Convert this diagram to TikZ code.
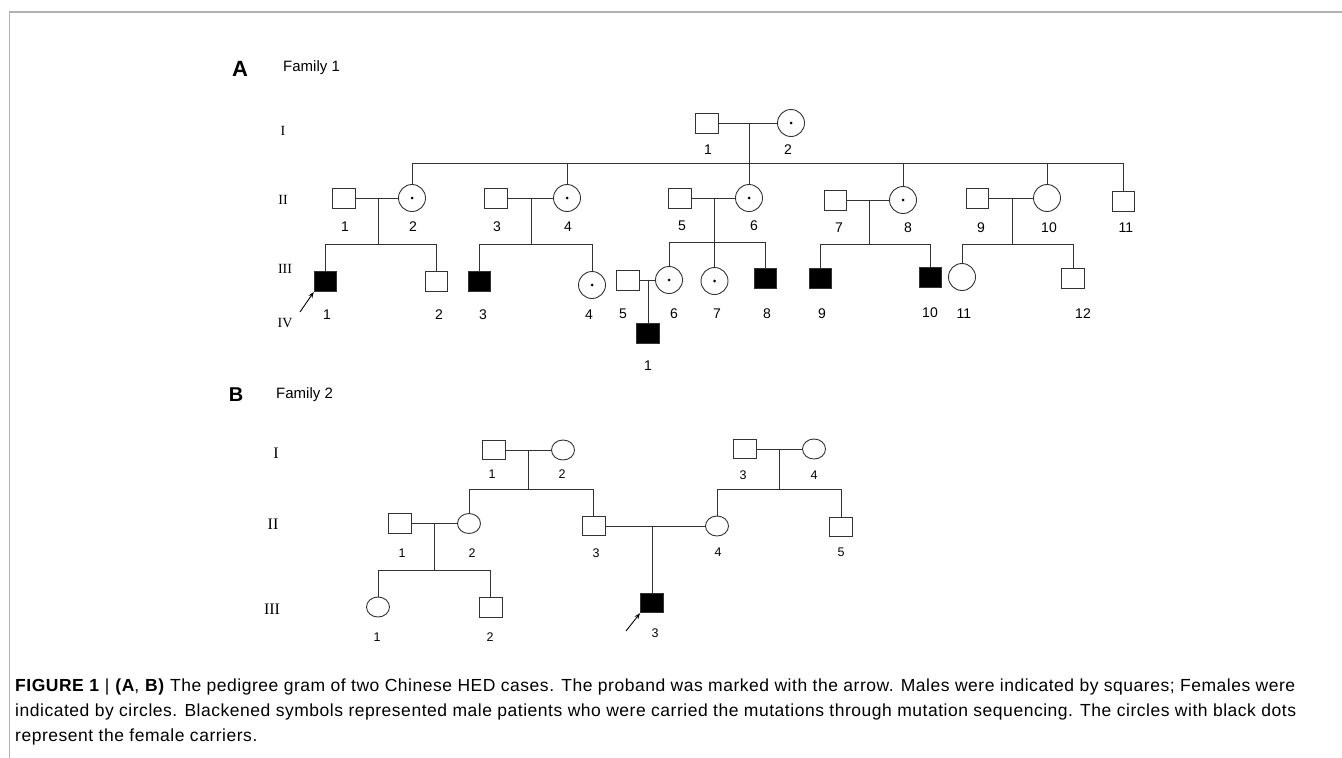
\documentclass[tikz,border=0pt]{standalone}
\usepackage{fontspec}
\setmainfont{Liberation Sans}
\newfontfamily\romf{Liberation Serif}
\newfontfamily\capf[LetterSpace=3]{Liberation Sans}
\usetikzlibrary{shapes.geometric,calc,arrows.meta}
\begin{document}
\begin{tikzpicture}[x=1pt,y=-1pt,
  ln/.style={line width=0.9pt, draw=black!80},
  sq/.style={draw=black!80, line width=0.9pt, rectangle, minimum width=22.5pt, minimum height=20pt, inner sep=0pt},
  fsq/.style={sq, fill=black},
  cf/.style={draw=black!80, line width=0.9pt, circle, minimum size=27pt, inner sep=0pt},
  car/.style={cf, path picture={\fill[black] (path picture bounding box.center) circle (1.5pt);}},
  el/.style={draw=black!80, line width=0.9pt, ellipse, minimum width=23pt, minimum height=20pt, inner sep=0pt},
  sqb/.style={sq, minimum height=19.5pt, minimum width=23pt},
  fsqb/.style={sqb, fill=black},
  lA/.style={font=\fontsize{14}{14}\selectfont, inner sep=0pt},
  lB/.style={font=\fontsize{12.5}{12.5}\selectfont, inner sep=0pt},
  rA/.style={font=\romf\fontsize{14}{14}\selectfont, inner sep=0pt},
  rB/.style={font=\romf\fontsize{16}{16}\selectfont, inner sep=0pt},
  arr/.style={line width=0.9pt, draw=black, -{Stealth[length=6pt,width=4.5pt]}},
  capline/.style={anchor=base west, font=\capf\fontsize{17.5}{17.5}\selectfont, inner sep=0pt},
]
\useasboundingbox (0,0) rectangle (1342,758);
% frame
\coordinate (fr1) at (1342,12);
\coordinate (fr2) at (9.5,12);
\coordinate (fr3) at (9.5,758);
\draw[gray!60, line width=1.3pt] (fr1) -- (fr2) -- (fr3);

% ================= Family 1 =================
\node[font=\bfseries\fontsize{22}{22}\selectfont, inner sep=0pt] (A) at (240,69) {A};
\node[font=\fontsize{15}{15}\selectfont, anchor=west, inner sep=0pt] (F1) at (283,68) {Family 1};
\node[rA] (rI) at (283,131) {I};
\node[rA] (rII) at (283,200) {II};
\node[rA] (rIII) at (285,269) {III};
\node[rA] (rIV) at (285,323) {IV};

% generation I
\node[sq] (I1) at (707,123) {};
\node[car] (I2) at (791,123) {};
\node[lA] (lI1) at (708,150) {1};
\node[lA] (lI2) at (788,150) {2};

% generation II
\node[sq] (II1) at (344,198) {};
\node[car] (II2) at (412,198) {};
\node[sq] (II3) at (496,198) {};
\node[car] (II4) at (567,198) {};
\node[sq] (II5) at (680,198) {};
\node[car] (II6) at (749,198) {};
\node[sq] (II7) at (835.5,200) {};
\node[car] (II8) at (903,200) {};
\node[sq] (II9) at (977.5,198) {};
\node[cf] (II10) at (1047,198) {};
\node[sq] (II11) at (1123.5,201) {};
\node[lA] (lII1) at (345,227) {1};
\node[lA] (lII2) at (413,227) {2};
\node[lA] (lII3) at (497,227) {3};
\node[lA] (lII4) at (568,227) {4};
\node[lA] (lII5) at (682,226) {5};
\node[lA] (lII6) at (754,226) {6};
\node[lA] (lII7) at (839,228) {7};
\node[lA] (lII8) at (908,228) {8};
\node[lA] (lII9) at (981,228) {9};
\node[lA] (lII10) at (1049,228) {10};
\node[lA] (lII11) at (1126,228) {11};

% generation III
\node[fsq] (III1) at (325.5,281.5) {};
\node[sq] (III2) at (436.5,281.5) {};
\node[fsq] (III3) at (479.5,281.5) {};
\node[car] (III4) at (592,285) {};
\node[sq] (III5) at (628,280) {};
\node[car] (III6) at (669,280) {};
\node[car] (III7) at (714.5,281) {};
\node[fsq] (III8) at (765.5,278) {};
\node[fsq] (III9) at (820.5,278) {};
\node[fsq] (III10) at (930.5,277) {};
\node[cf] (III11) at (962,277) {};
\node[sq] (III12) at (1073,278) {};
\node[lA] (lIII1) at (327,315) {1};
\node[lA] (lIII2) at (439,315) {2};
\node[lA] (lIII3) at (483,315) {3};
\node[lA] (lIII4) at (589,315) {4};
\node[lA] (lIII5) at (623,314) {5};
\node[lA] (lIII6) at (674,314) {6};
\node[lA] (lIII7) at (717,314) {7};
\node[lA] (lIII8) at (767,314) {8};
\node[lA] (lIII9) at (822,314) {9};
\node[lA] (lIII10) at (930,313) {10};
\node[lA] (lIII11) at (964,314) {11};
\node[lA] (lIII12) at (1083,314) {12};

% generation IV
\node[fsq] (IV1) at (648,333) {};
\node[lA] (lIV1) at (648,366) {1};

% marriages
\draw[ln] (I1) -- (I2);
\draw[ln] (II1) -- (II2);
\draw[ln] (II3) -- (II4);
\draw[ln] (II5) -- (II6);
\draw[ln] (II7) -- (II8);
\draw[ln] (II9) -- (II10);
\draw[ln] (III5) -- (III6);
\coordinate (mI) at ($(I1)!0.5!(I2)$);
\coordinate (m1) at ($(II1)!0.5!(II2)$);
\coordinate (m3) at ($(II3)!0.5!(II4)$);
\coordinate (m5) at ($(II5)!0.5!(II6)$);
\coordinate (m7) at ($(II7)!0.5!(II8)$);
\coordinate (m9) at ($(II9)!0.5!(II10)$);
\coordinate (m35) at ($(III5)!0.5!(III6)$);
% sibship lines
\coordinate (sI) at (0,163);
\coordinate (s1) at (0,244);
\coordinate (s5) at (0,242);
\draw[ln] (II2.north |- sI) -- (II11.north |- sI);
\draw[ln] (mI) -- (mI |- sI);
\foreach \n in {II2,II4,II6,II8,II10,II11} \draw[ln] (\n.north |- sI) -- (\n.north);
\draw[ln] (III1.north |- s1) -- (III2.north |- s1);
\draw[ln] (m1) -- (m1 |- s1);
\foreach \n in {III1,III2} \draw[ln] (\n.north |- s1) -- (\n.north);
\draw[ln] (III3.north |- s1) -- (III4.north |- s1);
\draw[ln] (m3) -- (m3 |- s1);
\foreach \n in {III3,III4} \draw[ln] (\n.north |- s1) -- (\n.north);
\draw[ln] (III6.north |- s5) -- (III8.north |- s5);
\draw[ln] (m5) -- (III7.north);
\foreach \n in {III6,III8} \draw[ln] (\n.north |- s5) -- (\n.north);
\draw[ln] (III9.north |- s1) -- (III10.north |- s1);
\draw[ln] (m7) -- (m7 |- s1);
\foreach \n in {III9,III10} \draw[ln] (\n.north |- s1) -- (\n.north);
\draw[ln] (III11.north |- s1) -- (III12.north |- s1);
\draw[ln] (m9) -- (m9 |- s1);
\foreach \n in {III11,III12} \draw[ln] (\n.north |- s1) -- (\n.north);
\draw[ln] (m35) -- (m35 |- IV1.north);
% proband arrow
\coordinate (pa1) at (300,312);
\draw[arr] (pa1) -- (III1.south west);

% ================= Family 2 =================
\node[font=\bfseries\fontsize{20}{20}\selectfont, inner sep=0pt] (B) at (236,395) {B};
\node[font=\fontsize{15}{15}\selectfont, anchor=west, inner sep=0pt] (F2) at (276,395) {Family 2};
\node[rB] (brI) at (276,453) {I};
\node[rB] (brII) at (273,524) {II};
\node[rB] (brIII) at (272,609) {III};

\node[sqb] (bI1) at (493.5,450) {};
\node[el] (bI2) at (563,450) {};
\node[sqb] (bI3) at (744.5,449) {};
\node[el] (bI4) at (814,449) {};
\node[lB] (lbI1) at (492,474) {1};
\node[lB] (lbI2) at (562,474) {2};
\node[lB] (lbI3) at (743,475) {3};
\node[lB] (lbI4) at (814,475) {4};

\node[sqb] (bII1) at (400,523.5) {};
\node[el] (bII2) at (469,523.5) {};
\node[sqb] (bII3) at (593.5,526) {};
\node[el] (bII4) at (717,526) {};
\node[sqb] (bII5) at (841,527) {};
\node[lB] (lbII1) at (402,553) {1};
\node[lB] (lbII2) at (472,553) {2};
\node[lB] (lbII3) at (596,553) {3};
\node[lB] (lbII4) at (718,552) {4};
\node[lB] (lbII5) at (841,552) {5};

\node[el] (bIII1) at (378,607) {};
\node[sqb] (bIII2) at (490.5,607.5) {};
\node[fsqb] (bIII3) at (652,603) {};
\node[lB] (lbIII1) at (377,637) {1};
\node[lB] (lbIII2) at (490,637) {2};
\node[lB] (lbIII3) at (655,633) {3};

\draw[ln] (bI1) -- (bI2);
\draw[ln] (bI3) -- (bI4);
\draw[ln] (bII1) -- (bII2);
\draw[ln] (bII3) -- (bII4);
\coordinate (bm1) at ($(bI1)!0.5!(bI2)$);
\coordinate (bm3) at ($(bI3)!0.5!(bI4)$);
\coordinate (bm21) at ($(bII1)!0.5!(bII2)$);
\coordinate (bm23) at ($(bII3)!0.475!(bII4)$);
\coordinate (bs1) at (0,489);
\coordinate (bs2) at (0,570);
\draw[ln] (bII2.north |- bs1) -- (bII3.north |- bs1);
\draw[ln] (bm1) -- (bm1 |- bs1);
\foreach \n in {bII2,bII3} \draw[ln] (\n.north |- bs1) -- (\n.north);
\draw[ln] (bII4.north |- bs1) -- (bII5.north |- bs1);
\draw[ln] (bm3) -- (bm3 |- bs1);
\foreach \n in {bII4,bII5} \draw[ln] (\n.north |- bs1) -- (\n.north);
\draw[ln] (bIII1.north |- bs2) -- (bIII2.north |- bs2);
\draw[ln] (bm21) -- (bm21 |- bs2);
\foreach \n in {bIII1,bIII2} \draw[ln] (\n.north |- bs2) -- (\n.north);
\draw[ln] (bm23) -- (bm23 |- bIII3.north);
\coordinate (pa2) at (626,631);
\draw[arr] (pa2) -- (bIII3.south west);

% ================= caption =================
\node[capline] (c1) at (15,691) {\textbf{FIGURE 1} | \textbf{(A}, \textbf{B)} The pedigree gram of two Chinese HED cases. The proband was marked with the arrow. Males were indicated by squares; Females were};
\node[capline] (c2) at (15,716) {indicated by circles. Blackened symbols represented male patients who were carried the mutations through mutation sequencing. The circles with black dots};
\node[capline] (c3) at (15,741) {represent the female carriers.};
\end{tikzpicture}
\end{document}
